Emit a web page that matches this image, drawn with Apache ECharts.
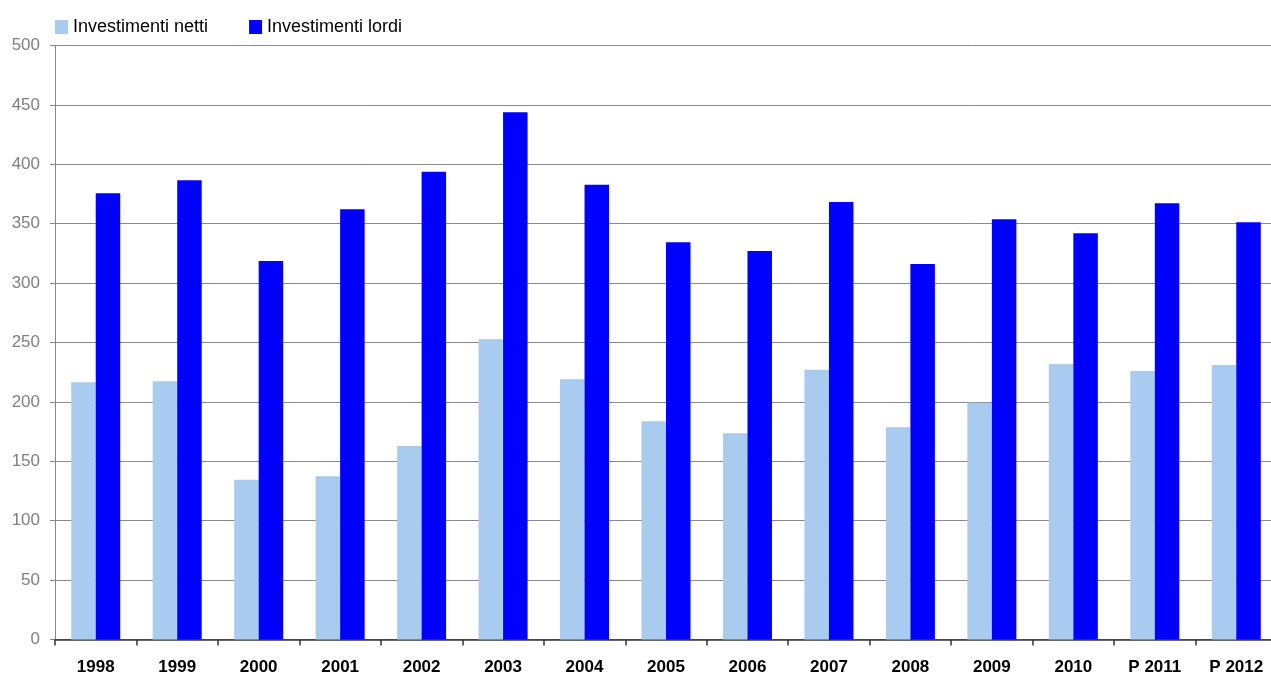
<!DOCTYPE html>
<html>
<head>
<meta charset="utf-8">
<script src="https://cdn.jsdelivr.net/npm/echarts@6/dist/echarts.min.js"></script>
<style>
html,body{margin:0;padding:0;background:#fff;overflow:hidden;width:1271px;height:677px;}
#chart{width:1277px;height:677px;}
</style>
</head>
<body>
<div id="chart"></div>
<script>
var categories = ['1998','1999','2000','2001','2002','2003','2004','2005','2006','2007','2008','2009','2010','P 2011','P 2012'];
var investimentiNetti = [216.5, 217.3, 134.5, 137.4, 162.9, 252.7, 219, 183.7, 173.6, 227.1, 178.6, 199.3, 231.9, 226, 231];
var investimentiLordi = [375.6, 386.5, 318.6, 362.1, 393.8, 443.8, 382.8, 334.3, 327, 368.3, 316, 353.7, 341.9, 367.2, 351.2];
var yTicks = [0, 50, 100, 150, 200, 250, 300, 350, 400, 450, 500];

var chart = echarts.init(document.getElementById('chart'), null, {renderer:'canvas'});
chart.setOption({
  animation: false,
  backgroundColor: '#ffffff',
  textStyle: {fontFamily: 'Liberation Sans, Arial, sans-serif'},
  legend: {
    left: 50, top: 13,
    itemWidth: 13, itemHeight: 14, itemGap: 41,
    icon: 'rect',
    textStyle: {fontSize: 18, color: '#000'},
    data: ['Investimenti netti', 'Investimenti lordi']
  },
  grid: {left: 55, top: 45.5, height: 594, right: 0, containLabel: false},
  xAxis: {
    type: 'category',
    data: categories,
    axisLine: {show: true, lineStyle: {color: '#333', width: 1.5}},
    axisTick: {show: true, length: 6, lineStyle: {color: '#333', width: 1.5}},
    axisLabel: {fontSize: 17, fontWeight: 'bold', color: '#000', margin: 19}
  },
  yAxis: {
    type: 'value',
    min: yTicks[0], max: yTicks[yTicks.length-1], interval: 50,
    axisLine: {show: true, lineStyle: {color: '#888', width: 1}},
    axisTick: {show: true, length: 5, lineStyle: {color: '#888'}},
    splitLine: {show: true, lineStyle: {color: '#8a8a8a', width: 1}},
    axisLabel: {fontSize: 17, color: '#808080', margin: 15}
  },
  series: [
    {name: 'Investimenti netti', type: 'bar', data: investimentiNetti, barWidth: 24.5, barGap: '0%',
     itemStyle: {color: '#A9CBF0'}},
    {name: 'Investimenti lordi', type: 'bar', data: investimentiLordi, barWidth: 24.5, barGap: '0%',
     itemStyle: {color: '#0000FF'}}
  ]
});
</script>
</body>
</html>
